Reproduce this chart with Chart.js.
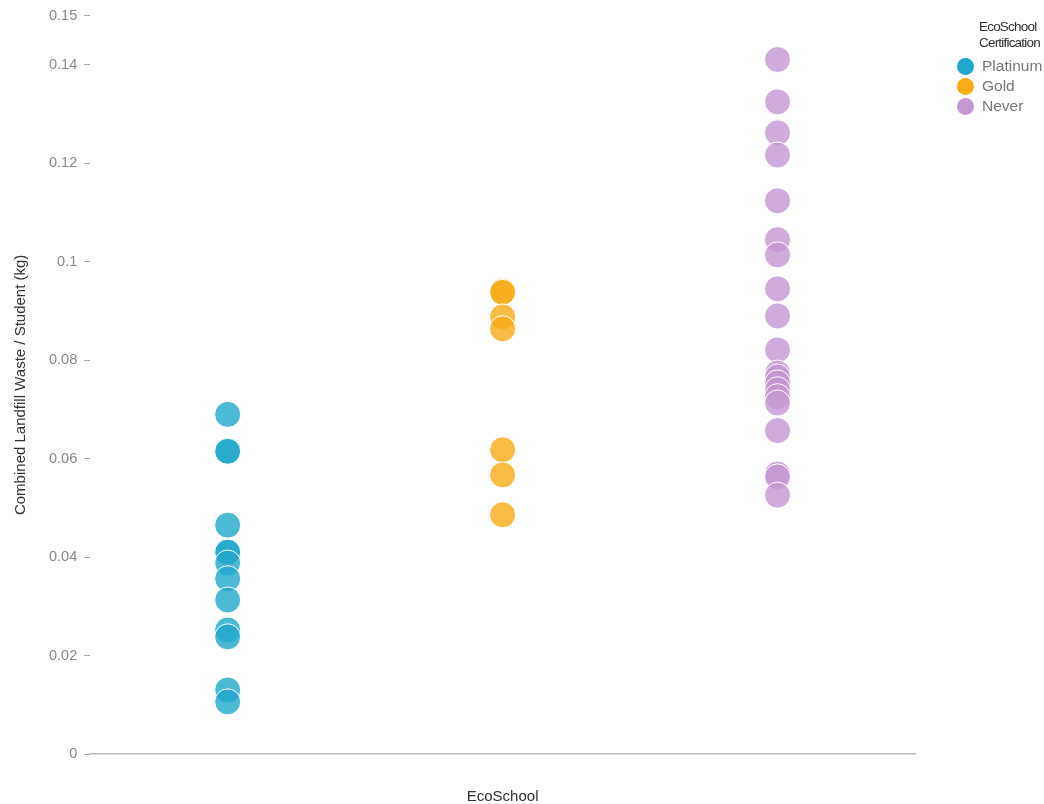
<!DOCTYPE html>
<html>
<head>
<meta charset="utf-8">
<script src="https://cdn.jsdelivr.net/npm/chart.js@4"></script>
<style>
  body { margin: 0; background: #fff; font-family: "Liberation Sans", Arial, sans-serif; }
  #wrap { position: relative; width: 1044px; height: 804px; }
  #legend { position: absolute; left: 957px; top: 19px; white-space: nowrap; }
  #legend .title { color: #333; font-size: 13.5px; line-height: 16px; margin-left: 22px; margin-bottom: 5px; letter-spacing: -0.8px; }
  #legend .item { display: flex; align-items: center; height: 20px; color: #777; font-size: 15.5px; }
  #legend .dot { width: 17px; height: 17px; border-radius: 50%; margin-right: 8px; }
</style>
</head>
<body>
<div id="wrap">
  <canvas id="waste" width="1044" height="804"></canvas>
  <div id="legend"></div>
</div>
<script>
const groups = ["Platinum", "Gold", "Never"]
const groupColors = ["#1fa8cb", "#f8ab17", "#c497d3"]

const platinumValues = [0.069, 0.0615, 0.0615, 0.0465, 0.0411, 0.041, 0.0388, 0.0356, 0.0313, 0.0252, 0.0238, 0.013, 0.0106]
const goldValues = [0.094, 0.0938, 0.0888, 0.0864, 0.0618, 0.0567, 0.0486]
const neverValues = [0.1411, 0.1325, 0.1262, 0.1217, 0.1124, 0.1045, 0.1014, 0.0945, 0.089, 0.0821,
  0.0774, 0.0766, 0.0754, 0.074, 0.0726, 0.0713, 0.0657, 0.0569, 0.0563, 0.0526]

const yTicks = [0, 0.02, 0.04, 0.06, 0.08, 0.1, 0.12, 0.14, 0.15]

const allValues = [platinumValues, goldValues, neverValues]

function withAlpha(hex, a) {
  const n = parseInt(hex.slice(1), 16)
  return `rgba(${n >> 16}, ${(n >> 8) & 255}, ${n & 255}, ${a})`
}

const datasets = groups.map((name, i) => ({
  label: name,
  data: allValues[i].map(v => ({ x: i, y: v })),
  backgroundColor: withAlpha(groupColors[i], 0.8),
  borderColor: "#fff",
  borderWidth: 1,
  pointRadius: 13,
  pointHoverRadius: 13,
}))

// html legend
const legendEl = document.getElementById("legend")
legendEl.innerHTML = '<div class="title">EcoSchool<br>Certification</div>' +
  groups.map((g, i) => `<div class="item"><span class="dot" style="background:${groupColors[i]}"></span>${g}</div>`).join("")

new Chart(document.getElementById("waste"), {
  type: "scatter",
  data: { datasets },
  options: {
    responsive: false,
    animation: false,
    events: [],
    layout: { padding: { top: 10, right: 129, bottom: 0, left: 12 } },
    plugins: { legend: { display: false }, tooltip: { enabled: false } },
    scales: {
      x: {
        type: "linear",
        min: -0.5,
        max: 2.5,
        ticks: { display: false },
        grid: { display: false, drawTicks: false },
        border: { display: true, color: "#bdbdbd", width: 1.5 },
        title: {
          display: true,
          text: "EcoSchool",
          color: "#333",
          font: { family: "Liberation Sans", size: 15, lineHeight: 1 },
          padding: { top: 35, bottom: 0 },
        },
      },
      y: {
        min: 0,
        max: 0.15,
        afterBuildTicks: axis => { axis.ticks = yTicks.map(v => ({ value: v })) },
        ticks: {
          color: "#8a8a8a",
          padding: 7,
          font: { family: "Liberation Sans", size: 14.5 },
          callback: v => String(v),
        },
        grid: { drawOnChartArea: false, drawTicks: true, tickLength: 6, color: "#a8a8a8" },
        border: { display: false },
        title: {
          display: true,
          text: "Combined Landfill Waste / Student (kg)",
          color: "#333",
          font: { family: "Liberation Sans", size: 15 },
          padding: { top: 0, bottom: 12 },
        },
      },
    },
  },
})
</script>
</body>
</html>
